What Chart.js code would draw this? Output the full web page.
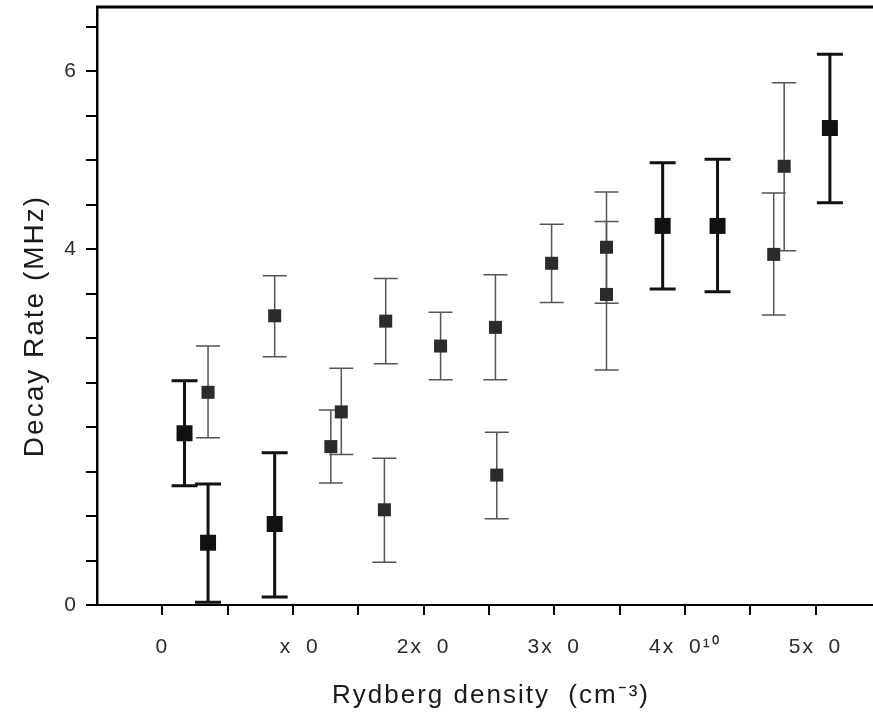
<!DOCTYPE html>
<html>
<head>
<meta charset="utf-8">
<title>Decay rate vs Rydberg density</title>
<script src="https://cdn.jsdelivr.net/npm/chart.js@4/dist/chart.umd.min.js"></script>
<style>
  html, body { margin: 0; padding: 0; background: #fff; overflow: hidden; }
  #wrap { width: 873px; height: 720px; position: relative; }
</style>
</head>
<body>
<div id="wrap"><canvas id="grafico"></canvas></div>
<script>
// density in units of 1e10 cm^-3, rate in MHz
const boldX  = [0.17, 0.35, 0.86, 3.83, 4.25, 5.11];
const boldY  = [1.93, 0.70, 0.91, 4.26, 4.26, 5.36];
const boldHi = [2.52, 1.36, 1.71, 4.97, 5.01, 6.19];
const boldLo = [1.34, 0.03, 0.09, 3.55, 3.52, 4.52];

const thinX  = [0.35, 0.86, 1.29, 1.37, 1.71, 1.70, 2.13, 2.55, 2.56, 2.98, 3.40, 3.40, 4.68, 4.76];
const thinY  = [2.39, 3.25, 1.78, 2.17, 3.19, 1.07, 2.91, 3.12, 1.46, 3.84, 4.02, 3.49, 3.94, 4.93];
const thinHi = [2.91, 3.70, 2.19, 2.66, 3.67, 1.65, 3.29, 3.71, 1.94, 4.28, 4.64, 4.31, 4.63, 5.87];
const thinLo = [1.88, 2.79, 1.37, 1.69, 2.71, 0.48, 2.53, 2.53, 0.97, 3.40, 3.39, 2.64, 3.26, 3.98];

// tick labels as they appear on the scan
const xTickValues = [0, 1, 2, 3, 4, 5];
const xTickLabels = ['0', '\u2007x\u20070', '2x\u20070', '3x\u20070', '4x\u20070\u00b9\u2070', '5x\u20070'];
const yTickValues = [0, 4, 6];
const yTickLabels = ['0', '4', '6'];

const xTitle = 'Rydberg density  (cm\u207b\u00b3)';
const yTitle = 'Decay Rate (MHz)';

const FONT = '"Liberation Sans", Arial, sans-serif';

function toPoints(xs, ys, lo, hi) {
  return xs.map((x, i) => ({ x: x, y: ys[i], lo: lo[i], hi: hi[i] }));
}

function labelFor(v, values, labels) {
  const i = values.findIndex(t => Math.abs(t - v) < 1e-6);
  return i >= 0 ? labels[i] : '';
}

function onHalfStep(v) {
  return Math.abs(v * 2 - Math.round(v * 2)) < 1e-6;
}

// no extra room for the tick labels, the frame is fixed
function fixedSize(prop, size) {
  return (scale) => {
    scale[prop] = size;
    scale.paddingTop = 0;
    scale.paddingBottom = 0;
    scale.paddingLeft = 0;
    scale.paddingRight = 0;
  };
}

// barras de error + marco superior + titulos
const errorBars = {
  id: 'errorBars',
  beforeDraw(chart) {
    chart.ctx.letterSpacing = '2px';
  },
  beforeDatasetsDraw(chart) {
    const ctx = chart.ctx;
    const xs = chart.scales.x, ys = chart.scales.y;
    chart.data.datasets.forEach((ds) => {
      ctx.save();
      ctx.strokeStyle = ds.barColor;
      ctx.lineWidth = ds.barWidth;
      ds.data.forEach((p) => {
        const px = xs.getPixelForValue(p.x);
        const top = ys.getPixelForValue(p.hi);
        const bot = ys.getPixelForValue(p.lo);
        ctx.beginPath();
        ctx.moveTo(px, top); ctx.lineTo(px, bot);
        ctx.moveTo(px - ds.capHalf, top); ctx.lineTo(px + ds.capHalf, top);
        ctx.moveTo(px - ds.capHalf, bot); ctx.lineTo(px + ds.capHalf, bot);
        ctx.stroke();
      });
      ctx.restore();
    });
  },
  afterDraw(chart) {
    const ctx = chart.ctx;
    const area = chart.chartArea;
    ctx.save();
    ctx.strokeStyle = '#000';
    ctx.lineWidth = 3;
    ctx.beginPath();
    ctx.moveTo(area.left - 1, area.top);
    ctx.lineTo(area.right, area.top);
    ctx.stroke();

    ctx.fillStyle = '#1a1a1a';
    ctx.letterSpacing = '2px';
    ctx.textAlign = 'center';
    ctx.textBaseline = 'alphabetic';
    ctx.font = '26px ' + FONT;
    ctx.fillText(xTitle, 491, 703);

    ctx.font = '28px ' + FONT;
    ctx.translate(43, 326);
    ctx.rotate(-Math.PI / 2);
    ctx.fillText(yTitle, 0, 0);
    ctx.restore();
  }
};

new Chart(document.getElementById('grafico').getContext('2d'), {
  type: 'scatter',
  data: {
    datasets: [
      {
        data: toPoints(thinX, thinY, thinLo, thinHi),
        pointStyle: 'rect',
        pointRadius: 9.2,
        backgroundColor: '#2b2b2b',
        borderWidth: 0,
        barColor: '#555',
        barWidth: 1.5,
        capHalf: 12
      },
      {
        data: toPoints(boldX, boldY, boldLo, boldHi),
        pointStyle: 'rect',
        pointRadius: 11.3,
        backgroundColor: '#111',
        borderWidth: 0,
        barColor: '#111',
        barWidth: 3,
        capHalf: 13
      }
    ]
  },
  options: {
    responsive: true,
    maintainAspectRatio: false,
    animation: false,
    layout: { autoPadding: false, padding: { top: 7, right: 0, left: 0, bottom: 0 } },
    plugins: {
      legend: { display: false },
      tooltip: { enabled: false }
    },
    scales: {
      x: {
        type: 'linear',
        min: -0.5,
        max: 5.44,
        afterFit: fixedSize('height', 115),
        afterBuildTicks: (scale) => {
          scale.ticks = scale.ticks.filter(t => t.value > -1e-6 && t.value < 5.2 && onHalfStep(t.value));
        },
        border: { display: true, color: '#000', width: 2 },
        grid: { drawOnChartArea: false, drawTicks: true, tickLength: 10, color: '#000', lineWidth: 2 },
        ticks: {
          stepSize: 0.5,
          includeBounds: false,
          autoSkip: false,
          maxRotation: 0,
          padding: 20,
          color: '#2a2a2a',
          font: { family: FONT, size: 21 },
          callback: (v) => labelFor(v, xTickValues, xTickLabels)
        }
      },
      y: {
        type: 'linear',
        min: 0,
        max: 6.72,
        afterFit: fixedSize('width', 97),
        afterBuildTicks: (scale) => {
          scale.ticks = scale.ticks.filter(t => onHalfStep(t.value));
        },
        border: { display: true, color: '#000', width: 2.5 },
        grid: { drawOnChartArea: false, drawTicks: true, tickLength: 11, color: '#000', lineWidth: 2 },
        ticks: {
          stepSize: 0.5,
          includeBounds: false,
          autoSkip: false,
          padding: 8,
          color: '#2a2a2a',
          font: { family: FONT, size: 21 },
          callback: (v) => labelFor(v, yTickValues, yTickLabels)
        }
      }
    }
  },
  plugins: [errorBars]
});
</script>
</body>
</html>
